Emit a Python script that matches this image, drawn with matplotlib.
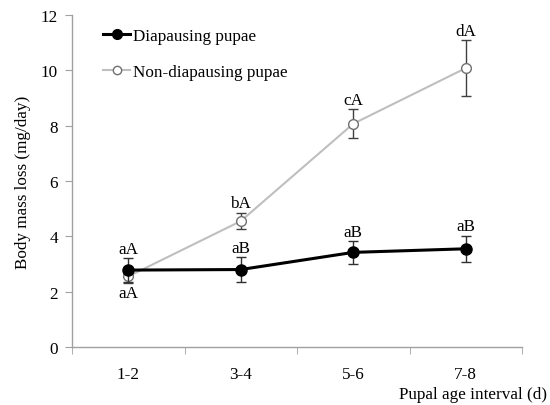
import matplotlib
matplotlib.use("Agg")
import matplotlib.pyplot as plt
from matplotlib.lines import Line2D
import numpy as np

plt.rcParams['font.family'] = ['Liberation Serif', 'DejaVu Serif']

categories = ["1-2", "3-4", "5-6", "7-8"]
dia_vals = [2.78, 2.80, 3.42, 3.55]
dia_err = [0.44, 0.45, 0.41, 0.47]
non_vals = [2.55, 4.55, 8.07, 10.08]
non_err = [0.25, 0.30, 0.52, 1.01]
dia_labels = ["aA", "aB", "aB", "aB"]
non_labels = ["aA", "bA", "cA", "dA"]

FS = 12.3

fig = plt.figure(figsize=(5.5, 4.06), dpi=100)
ax = fig.add_axes([72/550, 1-348/406, (522-72)/550, (348-16)/406])

x = np.arange(1, len(categories)+1)

ax.errorbar(x, non_vals, yerr=non_err, color='#bfbfbf', lw=1.5, marker='o',
            ms=7, mfc='white', mec='#707070', mew=1.0, ecolor='#404040',
            elinewidth=1.0, capsize=3.5, capthick=1.0, zorder=2)
ax.errorbar(x, dia_vals, yerr=dia_err, color='black', lw=2.2, marker='o',
            ms=8, mfc='black', mec='black', ecolor='#303030',
            elinewidth=1.0, capsize=3.5, capthick=1.0, zorder=3)

ax.set_xlim(0.5, 4.5)
ax.set_ylim(0, 12)
ax.set_yticks(np.arange(0, 13, 2))
ax.set_xticks(x)
ax.set_xticklabels(categories)
ax.set_xticks(np.arange(0.5, 4.6, 1), minor=True)
ax.tick_params(axis='x', which='major', length=0, pad=14, labelsize=FS)
ax.tick_params(axis='x', which='minor', length=5, color='#a0a0a0', direction='out')
ax.tick_params(axis='y', length=5, color='#a0a0a0', direction='out', labelsize=FS, pad=5)

for s in ['top', 'right']:
    ax.spines[s].set_visible(False)
for s in ['left', 'bottom']:
    ax.spines[s].set_color('#a0a0a0')
    ax.spines[s].set_linewidth(1.0)

for i in range(len(categories)):
    ax.annotate(dia_labels[i], (x[i], dia_vals[i] + dia_err[i]), xytext=(0, 1),
                textcoords='offset points', ha='center', va='bottom', fontsize=FS)
for i in range(len(categories)):
    if i == 0:
        ax.annotate(non_labels[i], (x[i], non_vals[i] - non_err[i]), xytext=(0, -1),
                    textcoords='offset points', ha='center', va='top', fontsize=FS)
    else:
        ax.annotate(non_labels[i], (x[i], non_vals[i] + non_err[i]), xytext=(0, 1),
                    textcoords='offset points', ha='center', va='bottom', fontsize=FS)

ax.set_ylabel('Body mass loss (mg/day)', fontsize=FS, labelpad=7)
fig.text(547/550, 1-395/406, 'Pupal age interval (d)', ha='right', va='center', fontsize=FS)

h1 = Line2D([], [], color='black', lw=2.2, marker='o', ms=7, mfc='black', mec='black')
h2 = Line2D([], [], color='#bfbfbf', lw=1.5, marker='o', ms=6, mfc='white', mec='#707070')
ax.legend([h1, h2], ['Diapausing pupae', 'Non-diapausing pupae'], loc='upper left',
          bbox_to_anchor=((103-72)/450, 1-(29-16)/332), frameon=False, fontsize=FS,
          handlelength=1.6, handletextpad=0.18, labelspacing=1.15, borderpad=0,
          borderaxespad=0)

fig.savefig('out.png', dpi=100)
